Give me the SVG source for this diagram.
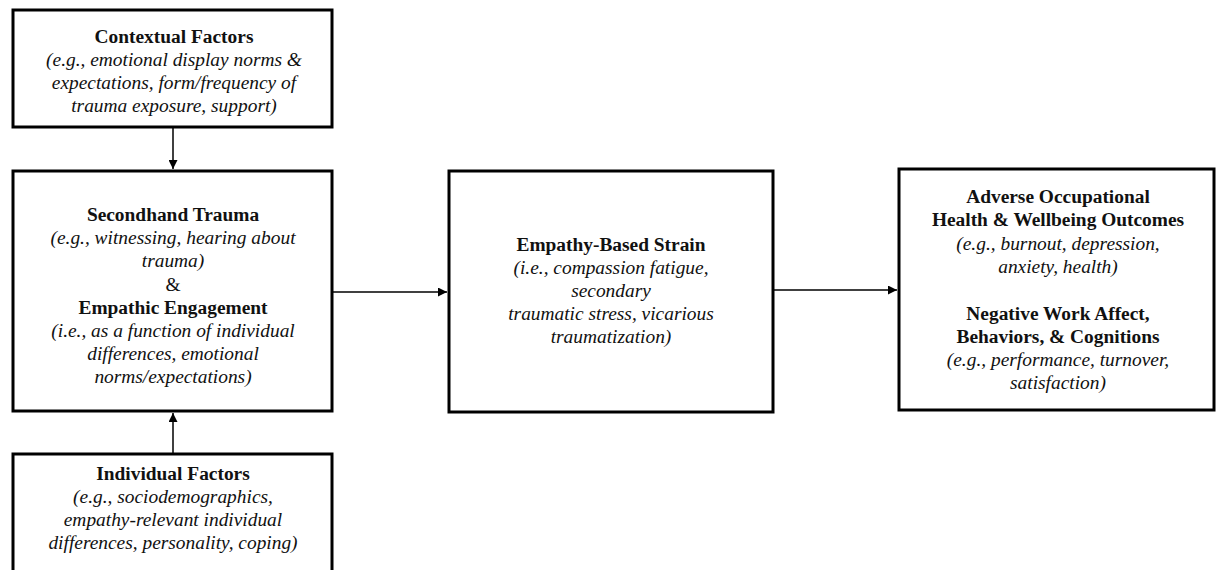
<svg xmlns="http://www.w3.org/2000/svg" width="1217" height="570" viewBox="0 0 1217 570">
  <style>
    .box { fill: #ffffff; stroke: #000000; stroke-width: 3; }
    .t { font-family: "Liberation Serif", "Times New Roman", serif; font-size: 19.4px; fill: #111111; text-anchor: middle; }
    .b { font-weight: bold; }
    .i { font-style: italic; }
    .edge { stroke: #000000; stroke-width: 1.5; fill: none; marker-end: url(#arrow); }
  </style>
  <defs>
    <marker id="arrow" viewBox="0 0 10 10" refX="10" refY="5" markerWidth="10" markerHeight="9" markerUnits="userSpaceOnUse" orient="auto">
      <path d="M0,0 L10,5 L0,10 Z" fill="#000000"/>
    </marker>
  </defs>
  <rect width="1217" height="570" fill="#ffffff"/>

  <g id="connectors">
    <line class="edge" x1="173" y1="128" x2="173" y2="169"/>
    <line class="edge" x1="173" y1="454" x2="173" y2="413"/>
    <line class="edge" x1="333" y1="292" x2="447" y2="292"/>
    <line class="edge" x1="774" y1="290" x2="897" y2="290"/>
  </g>

  <g id="contextual">
    <rect class="box" x="13" y="10" width="319" height="117"/>
    <text class="t b" x="174" y="43">Contextual Factors</text>
    <text class="t i" x="174" y="66">(e.g., emotional display norms &amp;</text>
    <text class="t i" x="174" y="89">expectations, form/frequency of</text>
    <text class="t i" x="174" y="112">trauma exposure, support)</text>
  </g>

  <g id="secondhand">
    <rect class="box" x="13" y="171" width="319" height="240"/>
    <text class="t b" x="173" y="221">Secondhand Trauma</text>
    <text class="t i" x="173" y="244.2">(e.g., witnessing, hearing about</text>
    <text class="t i" x="173" y="267.4">trauma)</text>
    <text class="t" x="173" y="290.6">&amp;</text>
    <text class="t b" x="173" y="313.8">Empathic Engagement</text>
    <text class="t i" x="173" y="337">(i.e., as a function of individual</text>
    <text class="t i" x="173" y="360.2">differences, emotional</text>
    <text class="t i" x="173" y="383.4">norms/expectations)</text>
  </g>

  <g id="individual">
    <rect class="box" x="13" y="454" width="319" height="130"/>
    <text class="t b" x="173" y="480">Individual Factors</text>
    <text class="t i" x="173" y="503">(e.g., sociodemographics,</text>
    <text class="t i" x="173" y="526">empathy-relevant individual</text>
    <text class="t i" x="173" y="549">differences, personality, coping)</text>
  </g>

  <g id="strain">
    <rect class="box" x="449" y="171" width="324" height="241"/>
    <text class="t b" x="611" y="251">Empathy-Based Strain</text>
    <text class="t i" x="611" y="274">(i.e., compassion fatigue,</text>
    <text class="t i" x="611" y="297">secondary</text>
    <text class="t i" x="611" y="320">traumatic stress, vicarious</text>
    <text class="t i" x="611" y="343">traumatization)</text>
  </g>

  <g id="outcomes">
    <rect class="box" x="899" y="169" width="315" height="241"/>
    <text class="t b" x="1058" y="203">Adverse Occupational</text>
    <text class="t b" x="1058" y="226.3">Health &amp; Wellbeing Outcomes</text>
    <text class="t i" x="1058" y="249.6">(e.g., burnout, depression,</text>
    <text class="t i" x="1058" y="272.9">anxiety, health)</text>
    <text class="t b" x="1058" y="319.5">Negative Work Affect,</text>
    <text class="t b" x="1058" y="342.8">Behaviors, &amp; Cognitions</text>
    <text class="t i" x="1058" y="366.1">(e.g., performance, turnover,</text>
    <text class="t i" x="1058" y="389.4">satisfaction)</text>
  </g>
</svg>
